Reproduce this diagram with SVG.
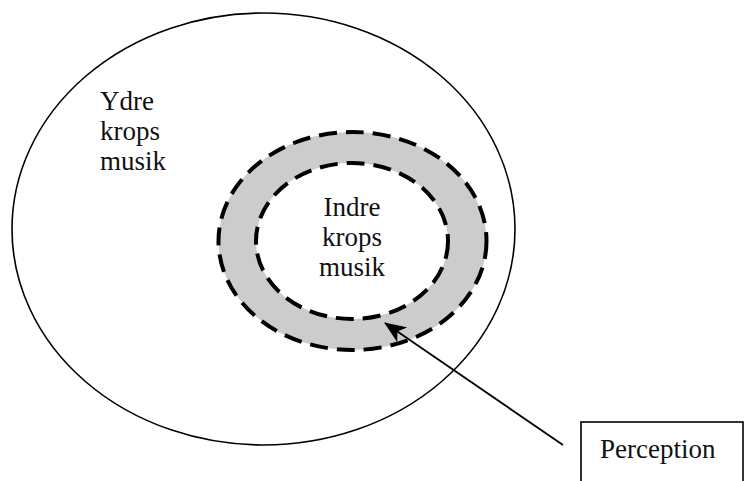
<svg xmlns="http://www.w3.org/2000/svg" width="744" height="481" viewBox="0 0 744 481">
  <style>
    .t { font-family: "Liberation Serif", "Times New Roman", serif; font-size: 27px; fill: #111; }
    .dash { fill: none; stroke: #000; stroke-width: 4; stroke-dasharray: 18 9; }
  </style>
  <defs>
    <marker id="ah" viewBox="0 0 22 18" refX="21" refY="9" markerWidth="22" markerHeight="18" markerUnits="userSpaceOnUse" orient="auto">
      <path d="M0,0 L22,9 L0,18 L6,9 Z" fill="#000"/>
    </marker>
  </defs>
  <rect width="744" height="481" fill="#fff"/>
  <g id="outer">
    <ellipse cx="263.5" cy="229" rx="251.5" ry="216" fill="none" stroke="#000" stroke-width="1.6"/>
    <text class="t" x="100" y="110">Ydre</text>
    <text class="t" x="100" y="140">krops</text>
    <text class="t" x="100" y="170">musik</text>
  </g>
  <g id="perception-ring">
    <ellipse cx="352.5" cy="241" rx="134" ry="109" fill="#cccccc"/>
    <ellipse cx="352" cy="241" rx="96" ry="78" fill="#fff"/>
    <ellipse cx="352.5" cy="241" rx="134" ry="109" class="dash"/>
    <ellipse cx="352" cy="241" rx="96" ry="78" class="dash"/>
  </g>
  <g id="inner">
    <text class="t" text-anchor="middle" x="352" y="216">Indre</text>
    <text class="t" text-anchor="middle" x="352" y="246">krops</text>
    <text class="t" text-anchor="middle" x="352" y="276">musik</text>
  </g>
  <g id="perception">
    <rect x="581" y="422" width="162" height="70" fill="#fff" stroke="#000" stroke-width="1.6"/>
    <text class="t" x="600" y="458">Perception</text>
  </g>
  <g id="connectors">
    <line x1="563" y1="445" x2="385" y2="323" stroke="#000" stroke-width="1.8" marker-end="url(#ah)"/>
  </g>
</svg>
